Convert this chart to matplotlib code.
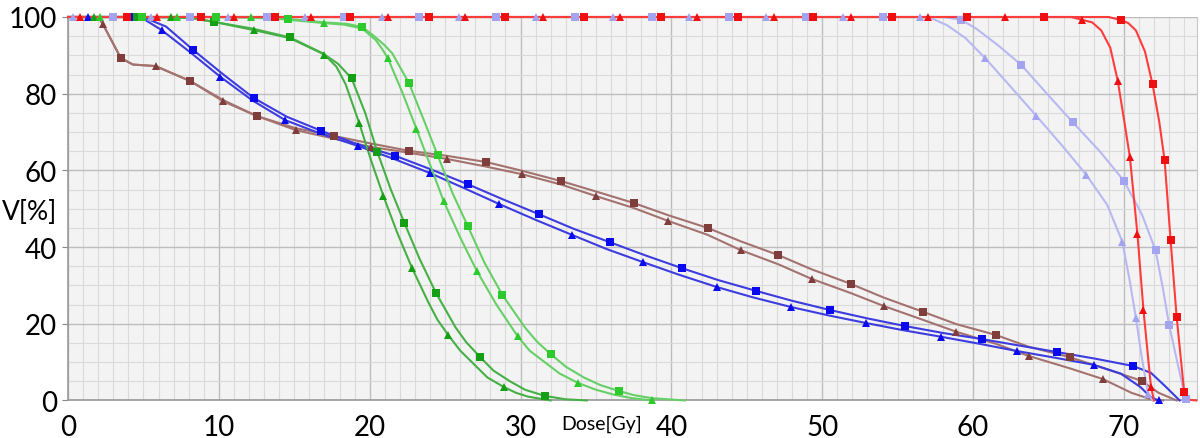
import matplotlib.pyplot as plt
from matplotlib.ticker import MultipleLocator

plt.rcParams['font.family'] = ['Lato', 'DejaVu Sans']

dose_ticks = [0, 10, 20, 30, 40, 50, 60, 70]
vol_ticks = [0, 20, 40, 60, 80, 100]

# every curve: points carrying a marker, plus extra points
red_sq_marks = [(3.9, 100), (8.8, 100), (13.7, 100), (18.7, 100), (23.9, 100), (29.0, 100), (34.2, 100),
                (39.3, 100), (44.4, 100), (49.4, 100), (54.6, 100), (59.6, 100), (64.7, 100),
                (69.8, 99.2), (71.9, 82.5), (72.7, 62.7), (73.1, 41.8), (73.5, 21.8), (74.0, 2.2)]
red_sq_knots = [(0, 100), (69.0, 100), (70.3, 98.4), (70.8, 96.5), (71.4, 91.0), (72.35, 72.6), (72.9, 52.3),
                (73.3, 31.8), (73.75, 12.0), (74.3, 0.2), (74.8, 0)]

red_tri_marks = [(0.8, 100), (5.9, 100), (11.0, 100), (16.1, 100), (21.2, 100), (26.3, 100), (31.5, 100),
                 (36.6, 100), (41.7, 100), (46.8, 100), (51.9, 100), (57.0, 100), (62.1, 100),
                 (67.2, 99.3), (69.6, 83.3), (70.4, 63.5), (70.9, 43.4), (71.3, 23.6), (71.8, 3.5)]
red_tri_knots = [(0, 100), (66.5, 100), (67.9, 98.6), (68.5, 96.5), (69.1, 92.0), (70.0, 73.5), (70.65, 53.5),
                 (71.1, 33.5), (71.55, 13.5), (72.0, 0)]

lp_tri_marks = [(0.3, 100), (5.5, 100), (10.6, 100), (15.7, 100), (20.8, 100), (25.9, 100), (31.0, 100),
                (36.1, 100), (41.2, 100), (46.3, 100), (51.4, 100), (56.5, 100),
                (60.8, 89.3), (64.2, 74.2), (67.5, 58.9), (69.9, 41.4), (70.8, 21.5), (71.6, 1.7)]
lp_tri_knots = [(0, 100), (57.3, 99.6), (58.3, 97.8), (59.5, 94.5), (62.5, 81.8), (65.9, 66.5),
                (68.9, 51.0), (70.4, 31.0), (71.2, 11.0), (71.9, 0)]

lp_sq_marks = [(3.0, 100), (8.1, 100), (13.2, 100), (18.3, 100), (23.3, 100), (28.4, 100), (33.6, 100),
               (38.7, 100), (43.8, 100), (48.9, 100), (54.0, 100),
               (59.2, 99.3), (63.2, 87.5), (66.6, 72.6), (70.0, 57.3), (72.1, 39.2), (73.0, 19.7), (74.1, 0.3)]
lp_sq_knots = [(0, 100), (58.0, 100), (60.2, 97.0), (61.7, 92.5), (64.9, 80.0), (68.4, 65.0),
               (71.2, 48.5), (72.6, 29.0), (73.6, 9.0), (74.3, 0)]

blue_sq_marks = [(4.3, 100), (8.3, 91.4), (12.3, 78.9), (16.8, 70.3), (21.7, 63.8), (26.5, 56.4),
                 (31.2, 48.6), (35.9, 41.3), (40.7, 34.5), (45.6, 28.6), (50.5, 23.6), (55.5, 19.4),
                 (60.6, 16.0), (65.6, 12.6), (70.6, 9.0)]
blue_sq_knots = [(0, 100), (5.2, 99.6), (6.5, 97.5), (10.3, 85.0), (14.5, 74.0), (19.2, 66.8),
                 (24.1, 60.2), (28.8, 52.5), (33.5, 44.8), (38.3, 37.8), (43.1, 31.4), (48.0, 26.0),
                 (53.0, 21.4), (58.0, 17.6), (63.1, 14.3), (68.1, 10.9), (71.8, 7.2), (72.8, 3.5), (73.7, 0)]

blue_tri_marks = [(1.3, 100), (6.2, 96.6), (10.1, 84.4), (14.4, 73.1), (19.2, 66.4), (24.0, 59.3),
                  (28.6, 51.2), (33.4, 43.2), (38.1, 36.1), (43.0, 29.6), (47.9, 24.4), (52.9, 20.2),
                  (57.9, 16.6), (62.9, 12.9), (68.0, 9.3), (72.3, 0)]
blue_tri_knots = [(0, 100), (4.8, 100), (8.1, 90.8), (12.2, 78.3), (16.8, 69.5), (21.6, 63.0),
                  (26.3, 55.3), (31.0, 47.1), (35.7, 39.5), (40.5, 32.8), (45.4, 26.9), (50.4, 22.2),
                  (55.4, 18.3), (60.4, 14.8), (65.5, 11.1), (69.8, 7.0), (71.1, 3.5), (71.8, 0.8)]

brown_sq_marks = [(3.5, 89.3), (8.1, 83.3), (12.5, 74.2), (17.6, 69.0), (22.6, 65.1), (27.7, 62.2),
                  (32.7, 57.2), (37.5, 51.5), (42.4, 45.0), (47.1, 37.9), (51.9, 30.4), (56.7, 23.1),
                  (61.5, 17.1), (66.4, 11.3), (71.2, 5.1)]
brown_sq_knots = [(0, 100), (2.0, 100), (2.3, 98.2), (4.3, 87.6), (5.8, 87.2), (10.3, 78.3),
                  (15.1, 71.0), (20.1, 67.0), (25.1, 63.8), (30.1, 59.9), (35.0, 54.5), (39.8, 48.3),
                  (44.6, 41.5), (49.3, 34.2), (54.1, 26.8), (58.9, 19.9), (63.7, 14.0), (68.6, 8.5),
                  (72.3, 2.0), (73.5, 0)]

brown_tri_marks = [(2.3, 98.2), (5.8, 87.2), (10.3, 78.0), (15.1, 70.5), (20.1, 66.1), (25.1, 63.0),
                   (30.1, 59.0), (35.0, 53.3), (39.8, 46.8), (44.6, 39.2), (49.3, 31.7), (54.1, 24.6),
                   (58.9, 17.9), (63.7, 11.6), (68.6, 5.6)]
brown_tri_knots = [(0, 100), (2.0, 100), (3.5, 89.3), (4.3, 87.6), (8.1, 83.3), (12.5, 74.2),
                   (17.6, 68.3), (22.6, 64.6), (27.7, 61.0), (32.7, 56.3), (37.5, 50.2), (42.4, 43.2),
                   (47.1, 35.5), (51.9, 28.0), (56.7, 21.0), (61.5, 14.8), (66.4, 8.4), (70.5, 2.0),
                   (71.8, 0.3), (72.6, 0)]

green_sq_marks = [(4.6, 100), (9.7, 98.7), (14.7, 94.7), (18.8, 84.0), (20.5, 64.9), (22.3, 46.3),
                  (24.4, 28.0), (27.3, 11.4), (31.6, 1.2)]
green_sq_knots = [(0, 100), (8.0, 99.8), (12.2, 97.0), (16.9, 90.5), (17.9, 87.8), (19.7, 75.0),
                  (21.4, 55.0), (23.3, 37.0), (25.7, 19.0), (26.4, 15.2), (28.2, 7.8), (29.3, 5.0),
                  (30.3, 2.8), (33.0, 0.3), (34.4, 0)]

green_tri_marks = [(1.7, 100), (6.8, 100), (12.3, 96.6), (17.0, 90.2), (19.3, 72.4), (20.9, 53.4),
                   (22.8, 34.6), (25.2, 17.1), (28.9, 3.5)]
green_tri_knots = [(0, 100), (8.5, 99.6), (9.7, 98.7), (14.7, 94.5), (17.8, 87.0), (18.4, 82.5),
                   (20.1, 62.5), (21.8, 44.0), (23.9, 25.5), (24.5, 21.0), (26.0, 13.0), (26.9, 9.5),
                   (27.8, 6.0), (29.7, 2.0), (30.5, 1.0), (32.0, 0)]

lgreen_sq_marks = [(4.9, 100), (9.8, 100), (14.6, 99.5), (19.5, 97.4), (22.6, 82.8), (24.5, 64.0),
                   (26.5, 45.5), (28.8, 27.5), (32.0, 12.1), (36.5, 2.5)]
lgreen_sq_knots = [(0, 100), (12.0, 99.8), (17.0, 98.6), (18.5, 98.2), (20.3, 95.0), (21.0, 92.6),
                   (21.5, 90.5), (22.0, 87.0), (23.6, 73.0), (25.5, 54.0), (27.6, 36.0), (30.3, 19.0),
                   (31.1, 15.3), (33.0, 8.8), (34.2, 6.0), (35.3, 4.0), (37.5, 1.4), (38.7, 0.6), (40.9, 0)]

lgreen_tri_marks = [(2.1, 100), (7.2, 100), (12.1, 100), (17.0, 98.4), (21.2, 89.3), (23.1, 70.8),
                    (24.9, 52.0), (27.1, 33.8), (29.8, 16.8), (33.8, 4.6), (38.7, 0)]
lgreen_tri_knots = [(0, 100), (14.0, 99.5), (18.3, 98.0), (19.5, 97.0), (20.4, 94.0), (20.8, 91.8),
                    (22.2, 80.0), (24.0, 61.5), (26.0, 42.5), (28.4, 25.0), (30.6, 13.0), (31.6, 10.0),
                    (32.6, 7.0), (35.0, 2.8), (36.2, 1.5), (37.4, 0.6)]

# marks, knots, line colour, marker colour, marker
curves = [
    (brown_tri_marks, brown_tri_knots, '#a4726f', '#7f3d3b', '^'),
    (brown_sq_marks, brown_sq_knots, '#a4726f', '#7f3d3b', 's'),
    (blue_tri_marks, blue_tri_knots, '#3c3ce0', '#0a0aee', '^'),
    (blue_sq_marks, blue_sq_knots, '#3c3ce0', '#0a0aee', 's'),
    (lp_tri_marks, lp_tri_knots, '#b8b8f2', '#a3a3f0', '^'),
    (lp_sq_marks, lp_sq_knots, '#b8b8f2', '#a3a3f0', 's'),
    (green_tri_marks, green_tri_knots, '#46b046', '#159f15', '^'),
    (green_sq_marks, green_sq_knots, '#46b046', '#159f15', 's'),
    (lgreen_tri_marks, lgreen_tri_knots, '#66cf66', '#2dca2d', '^'),
    (lgreen_sq_marks, lgreen_sq_knots, '#66cf66', '#2dca2d', 's'),
    (red_tri_marks, red_tri_knots, '#ff3c3c', '#ee1010', '^'),
    (red_sq_marks, red_sq_knots, '#ff3c3c', '#ee1010', 's'),
]

fig = plt.figure(figsize=(12, 4.39), dpi=100)
ax = fig.add_axes([0.0567, 0.0855, 0.9408, 0.8735])
ax.set_facecolor('#f3f3f3')

for marks, knots, lc, mc, mk in curves:
    pts = sorted(marks + knots, key=lambda p: (p[0], -p[1]))
    ax.plot([p[0] for p in pts], [p[1] for p in pts], color=lc, lw=1.5, clip_on=False, zorder=3)
    ax.plot([p[0] for p in marks], [p[1] for p in marks], ls='none', marker=mk,
            ms=5.5 if mk == 's' else 6, mfc=mc, mec=mc, mew=0, clip_on=False, zorder=4)

ax.set_xlim(0, 74.85)
ax.set_ylim(0, 100)
ax.set_xticks(dose_ticks)
ax.set_yticks(vol_ticks)
ax.xaxis.set_minor_locator(MultipleLocator(1))
ax.yaxis.set_minor_locator(MultipleLocator(5))
ax.grid(which='major', color='#bdbdbd', lw=1.0, zorder=1)
ax.grid(which='minor', color='#dadada', lw=0.8, zorder=0)
ax.set_axisbelow(True)
ax.tick_params(which='major', labelsize=20, length=4, color='#888888', pad=4)
ax.tick_params(axis='x', which='major', length=0, pad=10)
ax.tick_params(which='minor', length=0)
for side in ['left', 'bottom']:
    ax.spines[side].set_color('#999999')
    ax.spines[side].set_linewidth(1.2)
ax.spines['right'].set_color('#c8c8c8')
ax.spines['top'].set_visible(False)

fig.text(0.002, 0.517, 'V[%]', ha='left', va='center', fontsize=19)
fig.text(0.501, 0.034, 'Dose[Gy]', ha='center', va='center', fontsize=14)

fig.savefig('out.png', dpi=100)
